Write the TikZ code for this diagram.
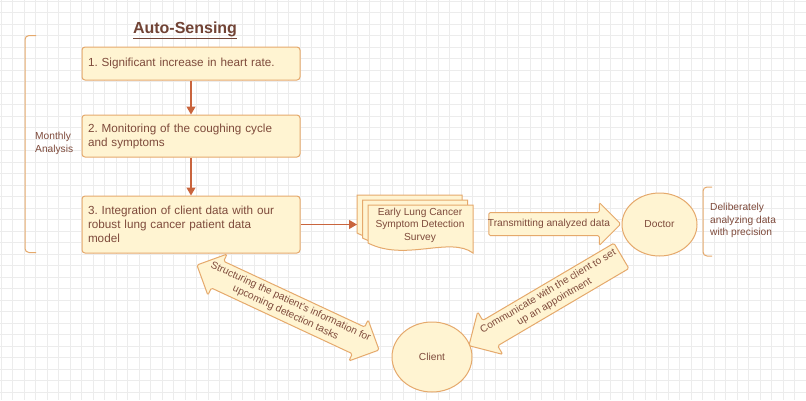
\documentclass[tikz,border=0pt]{standalone}
\usepackage{fontspec}
\setmainfont{Liberation Sans}
\frenchspacing
\usetikzlibrary{positioning,arrows.meta,shapes.geometric,shapes.arrows}

\definecolor{gridgray}{HTML}{ECECEC}
\definecolor{cream}{HTML}{FFF4D2}
\definecolor{tan}{HTML}{E5A96C}
\definecolor{brown}{HTML}{7E4A3B}
\definecolor{rust}{HTML}{C9643D}

\begin{document}
\begin{tikzpicture}[
  x=1pt, y=-1pt,
  box/.style={draw=tan, fill=cream, rounded corners=3pt, line width=1pt, align=left,
    text width=206pt, minimum width=218pt, inner sep=6pt, text=brown,
    font=\fontsize{11.7}{14}\selectfont},
  note/.style={text=brown, inner sep=1pt, font=\fontsize{10.2}{12.4}\selectfont},
  blob/.style={ellipse, draw=tan, fill=cream, line width=1pt, text=brown,
    font=\fontsize{10.2}{12.4}\selectfont},
  page/.style={draw=tan, fill=cream, line width=1pt},
  bigarrow/.style={draw=tan, fill=cream, line width=1pt, text=brown,
    rounded corners=1.5pt, inner xsep=0pt, font=\fontsize{10.2}{12.2}\selectfont},
  arrow/.style={-{Triangle[width=9pt,length=8pt]}, draw=rust, line width=1.2pt},
  bracket/.style={draw=tan, line width=1pt, rounded corners=4pt}
]
\useasboundingbox (0,0) rectangle (806,400);
\fill[white] (0,0) rectangle (806,400);
% background grid
\foreach \gx in {1,12.5,...,806}
  \draw[gridgray, line width=0.6pt] (\gx,0) -- (\gx,400);
\foreach \gy in {1,12.5,...,400}
  \draw[gridgray, line width=0.6pt] (0,\gy) -- (806,\gy);

\node[text=brown!90!black, font=\fontsize{16}{19}\bfseries] (heading) at (185,30) {\underline{Auto-Sensing}};

\node[box, minimum height=33pt] (step1) at (191,63.5) {1. Significant increase in heart rate.};
\node[box, minimum height=42pt] (step2) at (191,136) {2. Monitoring of the coughing cycle\\and symptoms};
\node[box, minimum height=57pt] (step3) at (191,224.5) {3. Integration of client data with our\\robust lung cancer patient data\\model};

\draw[bracket] (36,35.5) -- (25,35.5) -- (25,252.5) -- (36,252.5);
\node[note, align=left, anchor=west] (monthly) at (34,143.5) {Monthly\\Analysis};

% stacked survey pages
\foreach \px/\py in {357/195, 362.5/200, 368/205}
  \draw[page] (\px,\py) -- ++(105,0) -- ++(0,48)
    .. controls +(-23,-17) and +(37,19) .. (\px,\py+38) -- cycle;
\node[note, align=center] (survey) at (420,225) {Early Lung Cancer\\Symptom Detection\\Survey};
\coordinate (surveyin) at (357,224.5);

\node[bigarrow, single arrow, single arrow head extend=10pt, minimum height=132pt,
  inner ysep=6pt, text height=7.5pt, text depth=2.5pt]
  (transmit) at (549,224) {\makebox[0pt]{Transmitting analyzed data}};

\node[blob, minimum width=75pt, minimum height=63pt] (doctor) at (659.5,224.5) {Doctor};
\draw[bracket] (712,187) -- (703,187) -- (703,256) -- (712,256);
\node[note, align=left, anchor=west] (precise) at (709,220.5) {Deliberately\\analyzing data\\with precision};

\node[blob, minimum width=80pt, minimum height=70pt] (client) at (432,357) {Client};

\node[bigarrow, double arrow, double arrow head extend=8pt, minimum height=201pt,
  inner ysep=2pt, rotate=-25]
  (structure) at (288,307.5) {\makebox[0pt]{\begin{tabular}{@{}c@{}}Structuring the patient's information for\\upcoming detection tasks\end{tabular}}};

\node[bigarrow, single arrow, single arrow head extend=10pt, minimum height=177pt,
  inner ysep=2pt, rotate=30.5, shape border rotate=180]
  (appoint) at (551.5,297) {\makebox[0pt]{\begin{tabular}{@{}c@{}}Communicate with the client to set\\up an appointment\end{tabular}}};

\draw[arrow] (step1) -- (step2);
\draw[arrow] (step2) -- (step3);
\draw[arrow] (step3.east) -- (surveyin);
\end{tikzpicture}
\end{document}
